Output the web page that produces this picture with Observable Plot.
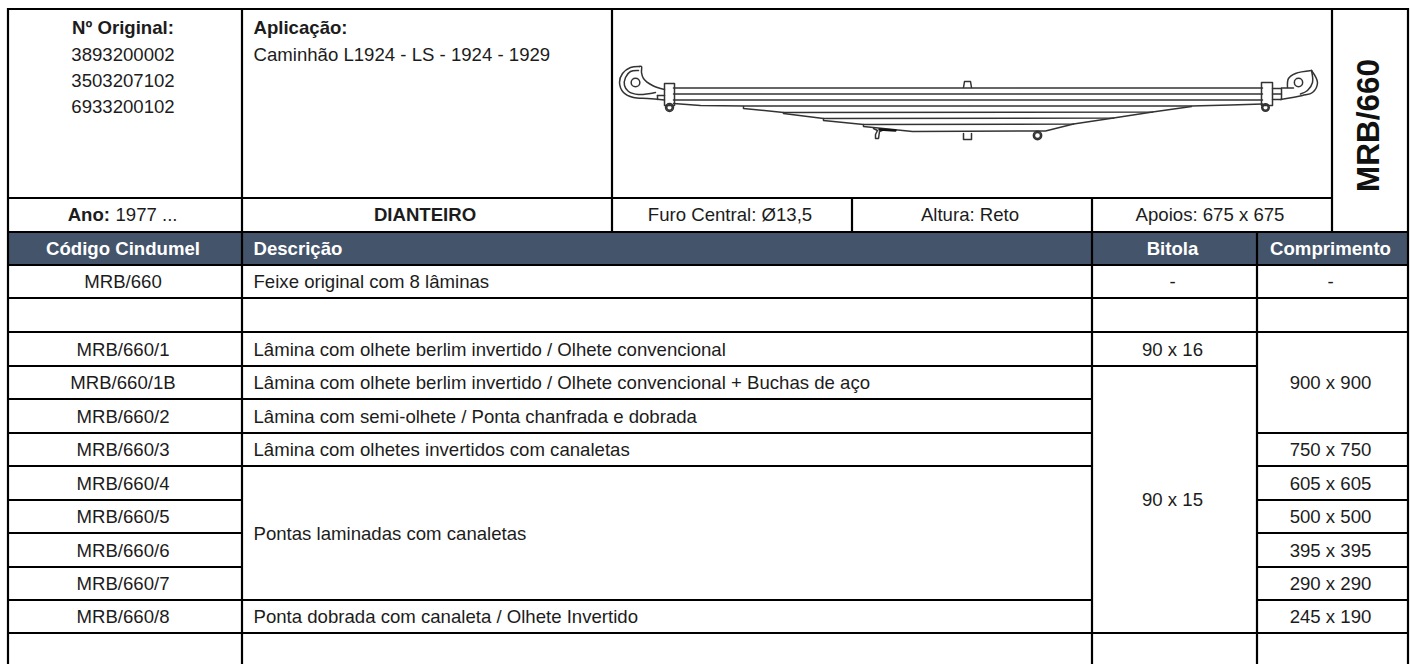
<!DOCTYPE html>
<html lang="pt">
<head>
<meta charset="utf-8">
<script src="https://cdn.jsdelivr.net/npm/d3@7"></script>
<script src="https://cdn.jsdelivr.net/npm/@observablehq/plot@0.6"></script>
<style>
html,body{margin:0;padding:0;background:#fff;overflow:hidden}
svg{display:block}
</style>
</head>
<body>
<div id="chart"></div>
<script>
// ---- Table content ----
const originalLabel = "Nº Original:";
const originalNumbers = ["3893200002", "3503207102", "6933200102"];
const applicationLabel = "Aplicação:";
const applicationText = "Caminhão L1924 - LS - 1924 - 1929";
const yearLabel = "Ano:";
const yearText = "1977 ...";
const axleText = "DIANTEIRO";
const specs = ["Furo Central: Ø13,5", "Altura: Reto", "Apoios: 675 x 675"];
const sideTitle = "MRB/660";
const headers = ["Código Cindumel", "Descrição", "Bitola", "Comprimento"];
const codes = ["MRB/660", "", "MRB/660/1", "MRB/660/1B", "MRB/660/2", "MRB/660/3", "MRB/660/4", "MRB/660/5", "MRB/660/6", "MRB/660/7", "MRB/660/8"];
const descriptions = [
  [0, 0, "Feixe original com 8 lâminas"],
  [2, 2, "Lâmina com olhete berlim invertido / Olhete convencional"],
  [3, 3, "Lâmina com olhete berlim invertido / Olhete convencional + Buchas de aço"],
  [4, 4, "Lâmina com semi-olhete / Ponta chanfrada e dobrada"],
  [5, 5, "Lâmina com olhetes invertidos com canaletas"],
  [6, 9, "Pontas laminadas com canaletas"],
  [10, 10, "Ponta dobrada com canaleta / Olhete Invertido"]
];
const gauges = [[0, 0, "-"], [2, 2, "90 x 16"], [3, 10, "90 x 15"]];
const lengths = [[0, 0, "-"], [2, 4, "900 x 900"], [5, 5, "750 x 750"], [6, 6, "605 x 605"], [7, 7, "500 x 500"], [8, 8, "395 x 395"], [9, 9, "290 x 290"], [10, 10, "245 x 190"]];

// ---- Grid layout ----
const [A, B, C, D, E, F, G, H] = [8, 242, 612, 852, 1092, 1257, 1332, 1408];
const top0 = 9, rowInfo = 198, rowHead = 232, rowBody = 265, bottom = 664;
const rowEdges = [265, 298, 332, 366, 399, 433, 466, 500, 533, 567, 600, 633];
const hSegments = [
  [top0, A, H], [rowInfo, A, G], [rowHead, A, H], [265, A, H], [298, A, H], [332, A, H],
  [366, A, F], [399, A, E], [433, A, E], [433, F, H], [466, A, E], [466, F, H],
  [500, A, B], [500, F, H], [533, A, B], [533, F, H], [567, A, B], [567, F, H],
  [600, A, E], [600, F, H], [633, A, H]
];
const vSegments = [
  [A, top0, bottom], [B, top0, bottom], [C, top0, rowHead], [D, rowInfo, rowHead],
  [E, rowInfo, bottom], [F, rowHead, bottom], [G, top0, rowHead], [H, top0, bottom]
];

// ---- Leaf-spring drawing ----
const leafLines = [
  [[673, 87.5], [1262, 87.5]],
  [[673, 93.5], [1262, 93.5]],
  [[673, 99.5], [1262, 99.5]],
  [[673, 103], [700, 105], [743, 105.5], [1191, 105.5], [1230, 104.5], [1262, 103.5]],
  [[743, 106], [743, 108], [783, 112], [1152, 111.5], [1191, 106]],
  [[783, 112], [783, 113], [823, 118], [1113, 117.5], [1152, 111.5]],
  [[823, 118], [823, 120], [863, 124], [1073, 123.5], [1113, 117.5]],
  [[863, 124], [863, 126], [912, 131], [1045, 130.5], [1073, 123.5]]
];
const fixtures = [
  [[664, 83], [674, 83], [674, 105], [664, 105], [664, 83]],
  [[1261, 82], [1272, 82], [1272, 105], [1261, 105], [1261, 82]],
  [[657, 95], [657, 99]], [[657, 95], [664, 95]],
  [[1272, 88], [1281, 88], [1281, 99], [1272, 99]], [[1272, 93.5], [1281, 93.5]], [[1281, 87.5], [1293, 87.5]],
  [[963, 87], [964, 81], [970, 81], [971, 87]],
  [[963, 133], [963, 139], [971, 139], [971, 133]]
];
const hooks = [
  [[639, 66], [630, 67], [622, 73], [619, 82], [623, 92], [633, 97], [647, 98], [664, 99.5]],
  [[639, 66], [641, 66], [641, 72], [643, 78], [652, 85], [664, 89]],
  [[638, 70], [630, 71], [625, 77], [624, 85], [628, 91], [638, 94], [655, 92]],
  [[1311, 70], [1317, 82], [1312, 92], [1302, 95], [1280, 99]],
  [[1311, 70], [1312, 82], [1307, 90], [1300, 93.5]],
  [[1287, 87], [1288, 78], [1295, 73], [1311, 70]]
];
const clip = [[873, 128], [877, 130], [875, 134], [875, 138], [878, 138], [879, 131], [884, 129]];
const clipTop = [[879, 129], [895, 130]];
const eyes = [
  [635, 82, 6], [669, 107, 5], [669, 107, 2.5], [1298, 82, 5.5], [1265, 107, 4.5], [1265, 107, 2.5], [1037, 135, 5.5], [1037, 135, 3]
];

// ---- Marks ----
const ink = "#1c1c1c", head = "#44546a", draw = "#333";
const xMid = (a, b) => (a + b) / 2 - 2.5;
const rowMidOf = (r0, r1) => (rowEdges[r0] + rowEdges[r1 + 1]) / 2 + 0.5;
const fs = 18.6;

const bodyText = [
  ...codes.map((t, i) => ({x: xMid(A, B), y: rowMidOf(i, i), t})).filter(d => d.t),
  ...gauges.map(([a, b, t]) => ({x: xMid(E, F), y: rowMidOf(a, b), t})),
  ...lengths.map(([a, b, t]) => ({x: xMid(F, H), y: rowMidOf(a, b), t})),
  ...specs.map((t, i) => ({x: xMid([C, D, E][i], [D, E, G][i]), y: (rowInfo + rowHead) / 2, t})),
  ...originalNumbers.map((t, i) => ({x: xMid(A, B), y: [55, 81, 107][i], t}))
];
const leftText = [
  ...descriptions.map(([a, b, t]) => ({y: rowMidOf(a, b), t})),
  {y: 55, t: applicationText}
];
const T = {fontFamily: "Liberation Sans, Arial, sans-serif", fontSize: fs, fill: ink, lineAnchor: "middle"};
const lineStyle = {stroke: "#000", strokeWidth: 2.2};
const px = d => d[0], py = d => d[1];
const stroke = {stroke: draw, strokeWidth: 1.5};

const chart = Plot.plot({
  width: 1410, height: 664,
  marginTop: 0, marginRight: 0, marginBottom: 0, marginLeft: 0,
  x: {type: "linear", domain: [0, 1410], range: [0, 1410], axis: null},
  y: {type: "linear", domain: [0, 664], range: [0, 664], axis: null},
  style: {background: "#fff", fontFamily: "Liberation Sans, Arial, sans-serif"},
  marks: [
    Plot.rect([[A, H, rowHead, rowBody]], {x1: d => d[0], x2: d => d[1], y1: d => d[2], y2: d => d[3], fill: head}),
    // Spring drawing
    ...leafLines.map(p => Plot.line(p, {x: px, y: py, ...stroke, strokeLinejoin: "round"})),
    ...fixtures.map(p => Plot.line(p, {x: px, y: py, ...stroke})),
    ...hooks.map(p => Plot.line(p, {x: px, y: py, curve: "catmull-rom", ...stroke})),
    Plot.line(clip, {x: px, y: py, ...stroke}),
    Plot.line(clipTop, {x: px, y: py, stroke: "#111", strokeWidth: 2.4}),
    Plot.dot(eyes, {x: d => d[0], y: d => d[1], r: d => d[2], stroke: draw, strokeWidth: 1.5, fill: "none"}),
    // Grid
    Plot.ruleY(hSegments, {y: d => d[0], x1: d => d[1] - 1, x2: d => d[2] + 1, dy: -0.5, ...lineStyle}),
    Plot.ruleX(vSegments, {x: d => d[0], y1: d => d[1] - 1, y2: d => d[2] + 1, dx: -0.5, ...lineStyle}),
    // Text
    Plot.text(bodyText, {x: "x", y: "y", text: "t", textAnchor: "middle", ...T}),
    Plot.text(leftText, {x: 253, y: "y", text: "t", textAnchor: "start", ...T}),
    Plot.text([originalLabel], {x: xMid(A, B), y: 28, text: d => d, textAnchor: "middle", ...T, fontWeight: "bold"}),
    Plot.text([applicationLabel], {x: 253, y: 28, text: d => d, textAnchor: "start", ...T, fontWeight: "bold"}),
    Plot.text([yearLabel], {x: 109.5, y: (rowInfo + rowHead) / 2, text: d => d, textAnchor: "end", ...T, fontWeight: "bold"}),
    Plot.text([yearText], {x: 115, y: (rowInfo + rowHead) / 2, text: d => d, textAnchor: "start", ...T}),
    Plot.text([axleText], {x: xMid(B, C), y: (rowInfo + rowHead) / 2, text: d => d, textAnchor: "middle", ...T, fontWeight: "bold"}),
    Plot.text(headers.filter((d, i) => i !== 1), {
      x: (d, i) => [xMid(A, B), xMid(E, F), xMid(F, H)][i], y: (rowHead + rowBody) / 2,
      text: d => d, textAnchor: "middle", ...T, fill: "#fff", fontWeight: "bold"
    }),
    Plot.text([headers[1]], {x: 253, y: (rowHead + rowBody) / 2, text: d => d, textAnchor: "start", ...T, fill: "#fff", fontWeight: "bold"}),
    Plot.text([sideTitle], {x: (G + H) / 2 - 1.5, y: 125, text: d => d, rotate: -90, textAnchor: "middle", ...T, fontSize: 31.5, fontWeight: "bold", fill: "#111"})
  ]
});
document.getElementById("chart").append(chart);
</script>
</body>
</html>
